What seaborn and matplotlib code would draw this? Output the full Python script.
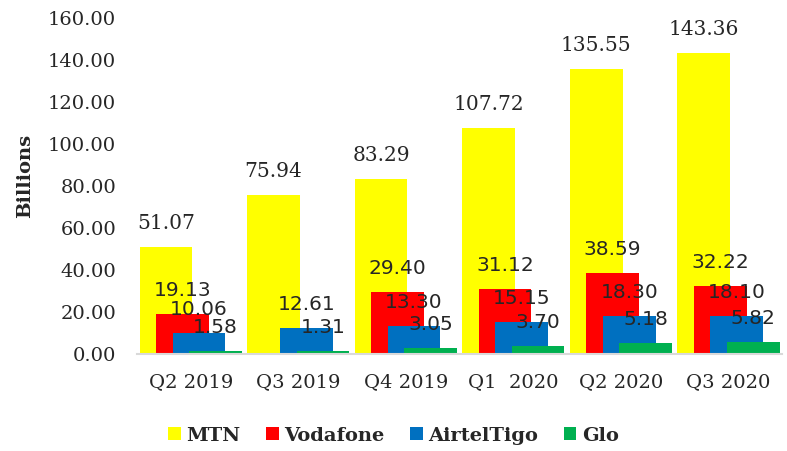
import numpy as np
import pandas as pd
import matplotlib
matplotlib.use("Agg")
import matplotlib.pyplot as plt
import seaborn as sns

quarters = ["Q2 2019", "Q3 2019", "Q4 2019", "Q1  2020", "Q2 2020", "Q3 2020"]
mtn = [51.07, 75.94, 83.29, 107.72, 135.55, 143.36]
vodafone = [19.13, np.nan, 29.40, 31.12, 38.59, 32.22]
airteltigo = [10.06, 12.61, 13.30, 15.15, 18.30, 18.10]
glo = [1.58, 1.31, 3.05, 3.70, 5.18, 5.82]

series = {"MTN": mtn, "Vodafone": vodafone, "AirtelTigo": airteltigo, "Glo": glo}
colors = {"MTN": "#FFFF00", "Vodafone": "#FF0000", "AirtelTigo": "#0070C0", "Glo": "#00B050"}
offsets = {"MTN": -0.23, "Vodafone": -0.077, "AirtelTigo": 0.077, "Glo": 0.23}

sns.set_style("white")
plt.rcParams["font.family"] = ["DejaVu Serif"]

fig, ax = plt.subplots(figsize=(7.87, 4.51), dpi=100)
fig.subplots_adjust(left=0.174, right=0.994, bottom=0.215, top=0.96)

for name, vals in series.items():
    df = pd.DataFrame({"pos": np.arange(len(quarters)) + offsets[name], "value": vals}).dropna()
    sns.barplot(data=df, x="pos", y="value", native_scale=True, width=0.49,
                color=colors[name], saturation=1, errorbar=None, label=name,
                linewidth=0, edgecolor=colors[name], ax=ax)
    lbl_family = "DejaVu Serif" if name == "MTN" else "DejaVu Sans"
    ax.bar_label(ax.containers[-1], fmt="%.2f", padding=10, fontsize=14.5, family=lbl_family)

ax.set_xlim(-0.5, 5.5)
ax.set_ylim(0, 160)
ax.set_xticks(range(len(quarters)))
ax.set_xticklabels(quarters, fontsize=14)
ax.set_yticks(np.arange(0, 161, 20))
ax.set_yticklabels([f"{v:.2f}" for v in np.arange(0, 161, 20)], fontsize=14)
ax.tick_params(axis="both", length=0)
ax.tick_params(axis="y", pad=15)
ax.tick_params(axis="x", pad=14)

ax.set_xlabel("")
ax.set_ylabel("Billions", fontsize=14, fontweight="bold")
ax.yaxis.set_label_coords(-0.16, 0.53)

for s in ["top", "right", "left"]:
    ax.spines[s].set_visible(False)
ax.spines["bottom"].set_color("#d9d9d9")
ax.spines["bottom"].set_linewidth(1.5)

handles, labels = ax.get_legend_handles_labels()
if ax.get_legend() is not None:
    ax.get_legend().remove()
fig.legend(handles, labels, loc="lower center", bbox_to_anchor=(0.5, -0.025), ncol=4,
           frameon=False, prop={"size": 14, "weight": "bold"},
           handlelength=0.65, handleheight=0.65, handletextpad=0.3, columnspacing=1.3)

fig.savefig("out.png", dpi=100)
